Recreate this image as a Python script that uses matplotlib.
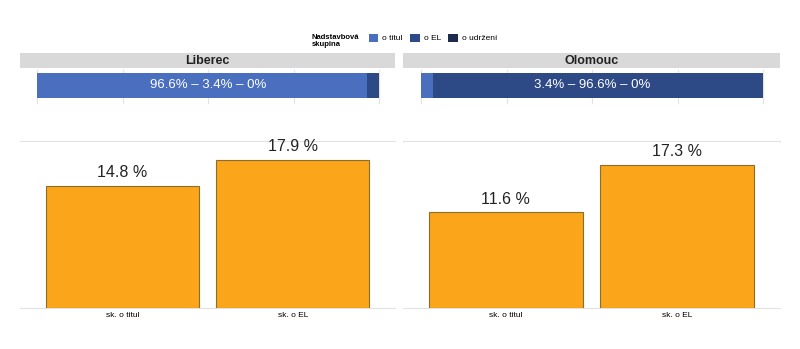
import matplotlib
matplotlib.use("Agg")
import matplotlib.pyplot as plt
from matplotlib.patches import Patch

plt.rcParams['font.family'] = ['Liberation Sans', 'DejaVu Sans']

# data
cities = ["Liberec", "Olomouc"]
share_titul = [96.6, 3.4]
share_el = [3.4, 96.6]
share_udrzeni = [0, 0]
categories = ["sk. o titul", "sk. o EL"]
values = {
    "Liberec": [14.8, 17.9],
    "Olomouc": [11.6, 17.3],
}
legend_labels = ["o titul", "o EL", "o udržení"]

c_titul = "#4a6fbf"
c_el = "#2e4a86"
c_udr = "#1e2b4f"
c_bar = "#fba61a"
c_edge = "#8c6d2c"
c_grid = "#e2e2e2"

W, H = 800, 349
fig = plt.figure(figsize=(W / 100, H / 100), dpi=100)


def px_axes(x0, y0, x1, y1):
    return fig.add_axes([x0 / W, 1 - y1 / H, (x1 - x0) / W, (y1 - y0) / H])


panels = [(20, 395, 37, 379), (403, 780, 421, 763)]

for i, city in enumerate(cities):
    px0, px1, bx0, bx1 = panels[i]

    # strip header
    st = px_axes(px0, 53, px1, 68)
    st.set_facecolor("#d9d9d9")
    st.set_xticks([]); st.set_yticks([])
    for s in st.spines.values():
        s.set_visible(False)
    st.text(0.5, 0.45, city, ha="center", va="center", fontsize=9,
            fontweight="bold", transform=st.transAxes, color="#222222")

    # stacked share bar
    ax = px_axes(bx0, 70, bx1, 103)
    left = 0
    for val, col in zip([share_titul[i], share_el[i], share_udrzeni[i]],
                        [c_titul, c_el, c_udr]):
        ax.barh(0, val, left=left, height=1, color=col)
        left += val
    ax.set_xlim(0, 100)
    ax.set_ylim(-0.7, 0.62)
    ax.set_xticks([0, 25, 50, 75, 100])
    ax.set_yticks([])
    ax.grid(axis="x", color=c_grid, lw=0.8)
    for gl in ax.get_xgridlines():
        gl.set_clip_on(False)
    ax.set_axisbelow(True)
    ax.tick_params(length=0, labelbottom=False)
    for s in ax.spines.values():
        s.set_visible(False)
    label = f"{share_titul[i]:g}% – {share_el[i]:g}% – {share_udrzeni[i]:g}%"
    ax.text(50, 0, label, ha="center", va="center", color="white", fontsize=9.5)

    # bar chart
    bx = px_axes(px0, 141, px1, 308)
    bars = bx.bar(range(len(categories)), values[city], width=0.9,
                  color=c_bar, edgecolor=c_edge, linewidth=0.8)
    for b, v in zip(bars, values[city]):
        bx.annotate(f"{v} %", (b.get_x() + b.get_width() / 2, v),
                    xytext=(0, 4), textcoords="offset points",
                    ha="center", va="bottom", fontsize=11.5, color="#222222")
    bx.set_xlim(-0.6, 1.6)
    bx.set_ylim(0, 20.2)
    bx.set_yticks([0, 20.2])
    bx.set_xticks(range(len(categories)))
    bx.set_xticklabels(categories, fontsize=6)
    bx.tick_params(length=0, labelleft=False, pad=3)
    bx.grid(axis="y", color=c_grid, lw=0.8)
    for gl in bx.get_ygridlines():
        gl.set_clip_on(False)
    bx.set_axisbelow(True)
    for s in bx.spines.values():
        s.set_visible(False)

# legend
fig.text(312 / W, 1 - 41 / H, "Nadstavbová\nskupina", fontsize=5.5,
         fontweight="bold", va="center", ha="left", linespacing=1.0)
handles = [Patch(facecolor=c) for c in [c_titul, c_el, c_udr]]
fig.legend(handles, legend_labels, loc="center left",
           bbox_to_anchor=(365 / W, 1 - 38 / H), ncol=3, frameon=False,
           fontsize=6, handlelength=1.1, handleheight=1.1,
           handletextpad=0.5, columnspacing=0.9, borderpad=0)

fig.savefig("out.png", dpi=100, facecolor="white")
